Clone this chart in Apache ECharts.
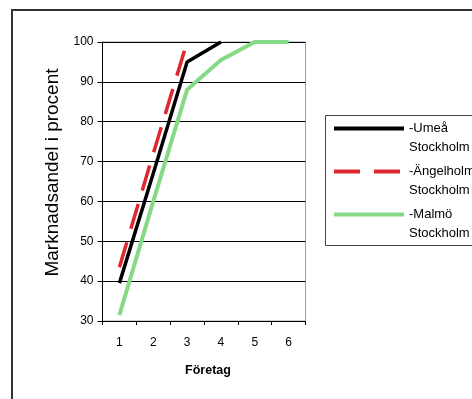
<!DOCTYPE html>
<html>
<head>
<meta charset="utf-8">
<script src="https://cdn.jsdelivr.net/npm/echarts@6/dist/echarts.min.js"></script>
<style>html,body{margin:0;padding:0;background:#fff}#c{width:472px;height:399px}</style>
</head>
<body>
<div id="c"></div>
<script>
var categories = ['1', '2', '3', '4', '5', '6'];
var umea = [39.5, 67, 95, 100, null, null];
var angelholm = [43.5, 72, 100, null, null, null];
var malmo = [31.5, 60, 88, 95.5, 100, 100];
var seriesNames = ['-Umeå\nStockholm', '-Ängelholm\nStockholm', '-Malmö\nStockholm'];
var yTicks = {min: 30, max: 100, interval: 10};

var FONT = "'Liberation Sans', Arial, sans-serif";
var chart = echarts.init(document.getElementById('c'), null, {renderer: 'canvas'});
chart.setOption({
  animation: false,
  backgroundColor: '#fff',
  textStyle: {fontFamily: FONT},
  graphic: [
    {type: 'rect', shape: {x: 12, y: 10, width: 700, height: 700}, style: {fill: 'none', stroke: '#333', lineWidth: 2}, silent: true, z: 0},
    {type: 'rect', shape: {x: 325.5, y: 115.5, width: 300, height: 130}, style: {fill: '#fff', stroke: '#444', lineWidth: 1}, silent: true, z: 1}
  ],
  grid: {left: 102.5, top: 42, right: 166.5, bottom: 78, show: true, borderColor: '#a0a0a0', borderWidth: 1},
  legend: {
    left: 332, top: 100, orient: 'vertical', padding: 0,
    itemWidth: 70, itemHeight: 14, itemGap: -14,
    z: 5,
    itemStyle: {opacity: 0},
    lineStyle: {width: 4},
    formatter: function (name) { return '\u00a0\n' + name; },
    textStyle: {fontFamily: FONT, fontSize: 13, color: '#000', lineHeight: 19},
    data: seriesNames
  },
  xAxis: {
    type: 'category', data: categories, boundaryGap: true,
    axisLine: {lineStyle: {color: '#000', width: 1}},
    axisTick: {show: true, length: 4, lineStyle: {color: '#000'}},
    axisLabel: {fontFamily: FONT, fontSize: 12, color: '#000', margin: 16},
    splitLine: {show: false},
    name: 'Företag', nameLocation: 'middle', nameGap: 43,
    nameTextStyle: {fontFamily: FONT, fontSize: 12.5, fontWeight: 'bold', color: '#000', padding: [0, 0, 0, 8]}
  },
  yAxis: {
    type: 'value', min: yTicks.min, max: yTicks.max, interval: yTicks.interval,
    axisLine: {show: true, lineStyle: {color: '#000', width: 1}},
    axisTick: {show: true, length: 5, lineStyle: {color: '#000'}},
    axisLabel: {fontFamily: FONT, fontSize: 12, color: '#000', margin: 9},
    splitLine: {show: true, lineStyle: {color: '#000', width: 1}},
    name: 'Marknadsandel i procent', nameLocation: 'middle', nameGap: 40,
    nameTextStyle: {fontFamily: FONT, fontSize: 19, color: '#000', padding: [0, 0, 0, 18]}
  },
  series: [
    {name: seriesNames[0], type: 'line', data: umea, symbol: 'none', clip: false, z: 4,
     lineStyle: {color: '#000', width: 3.5}, itemStyle: {color: '#000'}},
    {name: seriesNames[1], type: 'line', data: angelholm, symbol: 'none', clip: false, z: 3,
     lineStyle: {color: '#e0262f', width: 3.5, type: [26, 14]}, itemStyle: {color: '#e0262f'}},
    {name: seriesNames[2], type: 'line', data: malmo, symbol: 'none', clip: false, z: 2,
     lineStyle: {color: '#86da86', width: 4}, itemStyle: {color: '#86da86'}}
  ]
});
</script>
</body>
</html>
